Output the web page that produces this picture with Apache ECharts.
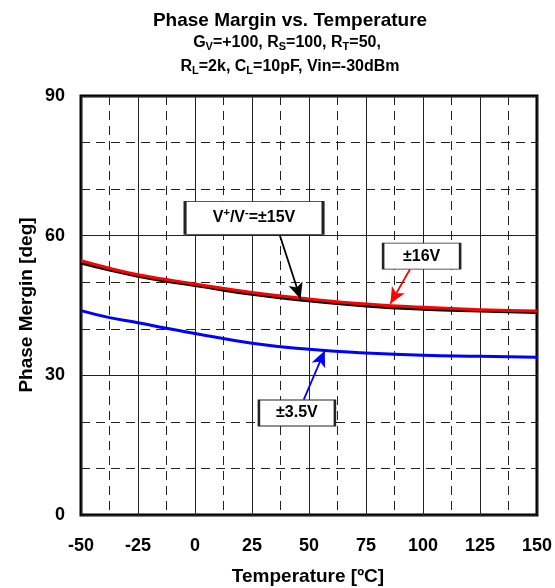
<!DOCTYPE html>
<html>
<head>
<meta charset="utf-8">
<script src="https://cdn.jsdelivr.net/npm/echarts@6/dist/echarts.min.js"></script>
<style>
html,body{margin:0;padding:0;background:#fff;}
#chart{width:555px;height:588px;}
</style>
</head>
<body>
<div id="chart"></div>
<script>
var temps = [-50, -37.5, -25, -12.5, 0, 25, 50, 75, 100, 125, 150];
var pm16 = [54.6, 53.0, 51.6, 50.6, 49.6, 47.8, 46.4, 45.3, 44.6, 44.1, 43.8];
var pm15 = [54.1, 52.6, 51.3, 50.2, 49.3, 47.4, 46.0, 44.9, 44.2, 43.8, 43.5];
var pm35 = [43.9, 42.4, 41.3, 40.1, 39.0, 36.9, 35.6, 34.8, 34.3, 34.1, 33.9];
var xTicks = [-50, -25, 0, 25, 50, 75, 100, 125, 150];
var yTicks = [0, 30, 60, 90];
var titleText = 'Phase Margin vs. Temperature';
var xName = 'Temperature [ºC]';
var yName = 'Phase Mergin [deg]';

function pairs(xs, ys) { return xs.map(function (x, i) { return [x, ys[i]]; }); }

var FONT = '"Liberation Sans", Arial, Helvetica, sans-serif';
var chart = echarts.init(document.getElementById('chart'), null, {renderer: 'canvas'});

var labelRich = {
  m: {fontSize: 16, fontWeight: 'bold', fontFamily: FONT, color: '#000'},
  sup: {fontSize: 11, fontWeight: 'bold', fontFamily: FONT, color: '#000', verticalAlign: 'top', lineHeight: 22}
};

function box(coord, size, text) {
  return {
    coord: coord, symbol: 'rect', symbolSize: size,
    itemStyle: {color: '#fff', borderColor: '#222', borderWidth: 1.5},
    label: {show: true, position: 'inside', formatter: text, rich: labelRich,
      fontSize: 16, fontWeight: 'bold', fontFamily: FONT, color: '#000'}
  };
}
function arrow(from, to, color) {
  return [{coord: from, lineStyle: {color: color, width: 1.8, type: 'solid'}}, {coord: to}];
}

var subRich = {
  m: {font: 'bold 16px ' + FONT, fill: '#000', lineHeight: 18, verticalAlign: 'middle'},
  s: {font: 'bold 11px ' + FONT, fill: '#000', lineHeight: 11, verticalAlign: 'bottom'}
};

var option = {
  animation: false,
  backgroundColor: '#fff',
  grid: {left: 81, right: 18, top: 96, bottom: 73, show: true, borderColor: '#000', borderWidth: 3, backgroundColor: 'transparent'},
  xAxis: {
    type: 'value', min: -50, max: 150, interval: 25,
    axisLine: {show: false}, axisTick: {show: false},
    axisLabel: {margin: 22, color: '#000', fontSize: 18, fontWeight: 'bold', fontFamily: FONT,
      formatter: function (v) { return xTicks.indexOf(v) >= 0 ? String(v) : ''; }},
    splitLine: {show: true, lineStyle: {color: '#222', width: 1}},
    minorTick: {show: false, splitNumber: 2},
    minorSplitLine: {show: true, lineStyle: {color: '#222', width: 1, type: [9, 6]}}
  },
  yAxis: {
    type: 'value', min: 0, max: 90, interval: 30,
    axisLine: {show: false}, axisTick: {show: false},
    axisLabel: {margin: 16, color: '#000', fontSize: 18, fontWeight: 'bold', fontFamily: FONT,
      formatter: function (v) { return yTicks.indexOf(v) >= 0 ? String(v) : ''; }},
    splitLine: {show: true, lineStyle: {color: '#222', width: 1}},
    minorTick: {show: false, splitNumber: 3},
    minorSplitLine: {show: true, lineStyle: {color: '#222', width: 1, type: [9, 6]}}
  },
  series: [
    {
      name: '±15V', type: 'line', data: pairs(temps, pm15), smooth: true, showSymbol: false,
      lineStyle: {color: '#000', width: 3}, z: 3,
      markPoint: {data: [box([25.9, 63.8], [138, 33], '{m|V}{sup|+}{m|/V}{sup|-}{m|=±15V}')], z: 10},
      markLine: {silent: true, symbol: ['none', 'arrow'], symbolSize: [11, 16], label: {show: false},
        data: [arrow([37.2, 60.1], [46.3, 46.4], '#000')]}
    },
    {
      name: '±16V', type: 'line', data: pairs(temps, pm16), smooth: true, showSymbol: false,
      lineStyle: {color: '#ff0000', width: 3}, z: 4,
      markPoint: {data: [box([99.4, 55.6], [77, 26], '±16V')], z: 10},
      markLine: {silent: true, symbol: ['none', 'arrow'], symbolSize: [11, 16], label: {show: false},
        data: [arrow([94.3, 52.8], [85.7, 45.4], '#ff0000')]}
    },
    {
      name: '±3.5V', type: 'line', data: pairs(temps, pm35), smooth: true, showSymbol: false,
      lineStyle: {color: '#0000ff', width: 3}, z: 4,
      markPoint: {data: [box([44.7, 21.9], [76, 26], '±3.5V')], z: 10},
      markLine: {silent: true, symbol: ['none', 'arrow'], symbolSize: [11, 16], label: {show: false},
        data: [arrow([47.7, 24.8], [56.9, 35.3], '#0000ff')]}
    }
  ],
  graphic: [
    {type: 'text', x: 290, y: 21, style: {text: titleText, font: 'bold 19px ' + FONT, fill: '#000', textAlign: 'center', textVerticalAlign: 'middle'}},
    {type: 'text', x: 287, y: 43, style: {
      text: '{m|G}{s|V}{m|=+100, R}{s|S}{m|=100, R}{s|T}{m|=50,}',
      textAlign: 'center', textVerticalAlign: 'middle', rich: subRich}},
    {type: 'text', x: 290, y: 67, style: {
      text: '{m|R}{s|L}{m|=2k, C}{s|L}{m|=10pF, Vin=-30dBm}',
      textAlign: 'center', textVerticalAlign: 'middle', rich: subRich}},
    {type: 'text', x: 308, y: 577, style: {text: xName, font: 'bold 19px ' + FONT, fill: '#000', textAlign: 'center', textVerticalAlign: 'middle'}},
    {type: 'text', x: 27, y: 305, rotation: Math.PI / 2, style: {text: yName, font: 'bold 19px ' + FONT, fill: '#000', textAlign: 'center', textVerticalAlign: 'middle'}}
  ]
};
chart.setOption(option);
</script>
</body>
</html>
